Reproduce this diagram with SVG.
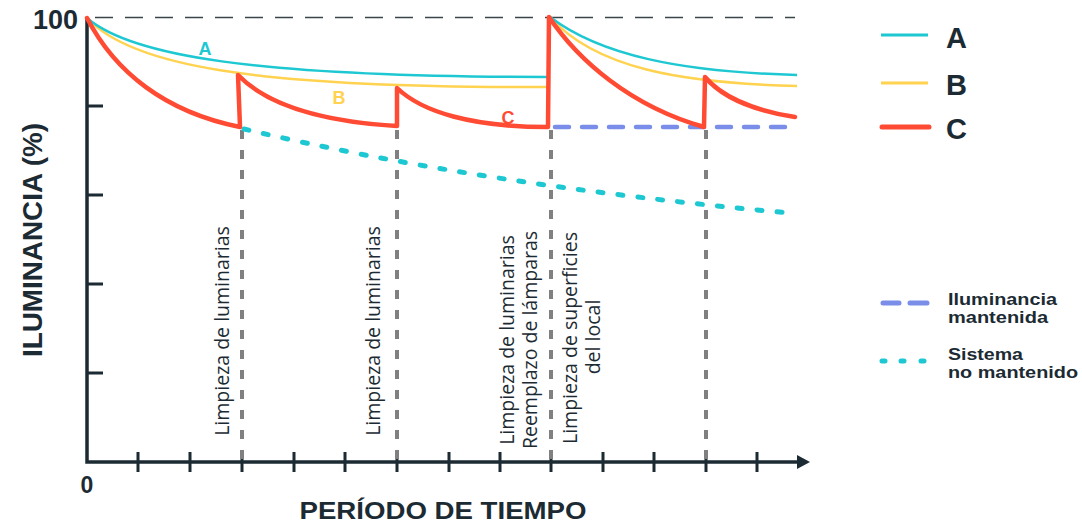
<svg xmlns="http://www.w3.org/2000/svg" width="1082" height="524" viewBox="0 0 1082 524">
<style>
.dk{fill:#1c2b33}
.ax{stroke:#1c2b33;stroke-width:3.5;fill:none}
.tk{stroke:#1c2b33;stroke-width:3;fill:none}
.bold{font-family:"Liberation Sans",Arial,sans-serif;font-weight:bold}
.lbl{font-family:"Open Sans","Noto Sans",sans-serif;font-size:19.5px;fill:#1c2b33;text-anchor:middle}
.ca{stroke:#1ec8d2;stroke-width:2.5;fill:none}
.cb{stroke:#ffd24f;stroke-width:2.5;fill:none}
.cc{stroke:#ff4b33;stroke-width:4.5;fill:none;stroke-linejoin:round;stroke-linecap:round}
.gd{stroke:#808080;stroke-width:4;stroke-dasharray:9 11;fill:none}
.bd{stroke:#7a8de8;stroke-width:4.5;stroke-dasharray:14 13;stroke-linecap:round;fill:none}
.cd{stroke:#1ec8d2;stroke-width:5;stroke-dasharray:5 15;stroke-linecap:round;fill:none}
</style>
<rect width="1082" height="524" fill="#ffffff"/>
<g id="axes">
<line x1="95" y1="17.5" x2="795" y2="17.5" stroke="#3a4549" stroke-width="1.5" stroke-dasharray="18 12"/>
<path class="ax" d="M87,17 V462 H800"/>
<polygon class="dk" points="797,455 810,462 797,469"/>
<path class="tk" d="M87,106 H103 M87,195 H103 M87,284 H103 M87,373 H103"/>
<path class="tk" d="M138,452 V472 M190,452 V472 M242,452 V472 M294,452 V472 M345,452 V472 M397,452 V472 M449,452 V472 M500,452 V472 M551,452 V472 M603,452 V472 M654,452 V472 M706,452 V472 M757,452 V472"/>
<text class="bold dk" x="78" y="29" font-size="27" text-anchor="end">100</text>
<text class="bold dk" x="87" y="493" font-size="23" text-anchor="middle">0</text>
<text class="bold dk" x="443" y="519" font-size="23" text-anchor="middle" textLength="287" lengthAdjust="spacingAndGlyphs">PERÍODO DE TIEMPO</text>
<text class="bold dk" transform="translate(42,240) rotate(-90)" font-size="27" text-anchor="middle" textLength="234" lengthAdjust="spacingAndGlyphs">ILUMINANCIA (%)</text>
</g>
<g id="events">
<line class="gd" x1="242" y1="130" x2="242" y2="460"/>
<line class="gd" x1="397" y1="130" x2="397" y2="460"/>
<line class="gd" x1="551" y1="130" x2="551" y2="460"/>
<line class="gd" x1="706" y1="130" x2="706" y2="460"/>
<text class="lbl" transform="translate(229,331) rotate(-90)">Limpieza de luminarias</text>
<text class="lbl" transform="translate(380,331) rotate(-90)">Limpieza de luminarias</text>
<text class="lbl" transform="translate(514,340) rotate(-90)">Limpieza de luminarias</text>
<text class="lbl" transform="translate(537,340) rotate(-90)">Reemplazo de lámparas</text>
<text class="lbl" transform="translate(577,338) rotate(-90)">Limpieza de superficies</text>
<text class="lbl" transform="translate(600,337) rotate(-90)">del local</text>
</g>
<g id="curves">
<path class="bd" d="M555,127 H795"/>
<path class="cd" d="M244,129 Q480,185 790,213"/>
<path class="cb" d="M87,18 C130,65 250,88 548,87 M550,17 C595,68 680,83 797,86"/>
<path class="ca" d="M87,18 C130,55 250,77 548,77 M550,17 C600,55 680,72 797,75"/>
<path class="cc" d="M87,18 C115,72 165,112 240,127 L238,75 C270,108 330,122 397,126 L397,88 C422,112 472,127 548,127 L549,17 C578,60 630,106 704,127 L705,77 C720,95 750,110 795,117"/>
<text class="bold" x="205" y="55" font-size="18" fill="#1ec8d2" text-anchor="middle">A</text>
<text class="bold" x="339" y="104" font-size="18" fill="#ffd24f" text-anchor="middle">B</text>
<text class="bold" x="508" y="124" font-size="18" fill="#ff4b33" text-anchor="middle">C</text>
</g>
<g id="legend">
<line x1="881" y1="35" x2="928" y2="35" stroke="#1ec8d2" stroke-width="3"/>
<line x1="881" y1="83" x2="928" y2="83" stroke="#ffd24f" stroke-width="3"/>
<line x1="882" y1="127" x2="929" y2="127" stroke="#ff4b33" stroke-width="5" stroke-linecap="round"/>
<text class="bold dk" x="946" y="48" font-size="29">A</text>
<text class="bold dk" x="946" y="95" font-size="29">B</text>
<text class="bold dk" x="946" y="139" font-size="29">C</text>
<path d="M883,303 H899 M910,303 H927" stroke="#7a8de8" stroke-width="5" stroke-linecap="round"/>
<path d="M882,361 H885 M901,361 H904 M921,361 H924" stroke="#1ec8d2" stroke-width="5" stroke-linecap="round"/>
<text class="bold dk" x="948" y="305" font-size="16" textLength="109" lengthAdjust="spacingAndGlyphs">Iluminancia</text>
<text class="bold dk" x="948" y="323" font-size="16" textLength="100" lengthAdjust="spacingAndGlyphs">mantenida</text>
<text class="bold dk" x="948" y="360" font-size="16" textLength="75" lengthAdjust="spacingAndGlyphs">Sistema</text>
<text class="bold dk" x="948" y="378" font-size="16" textLength="130" lengthAdjust="spacingAndGlyphs">no mantenido</text>
</g>
</svg>
